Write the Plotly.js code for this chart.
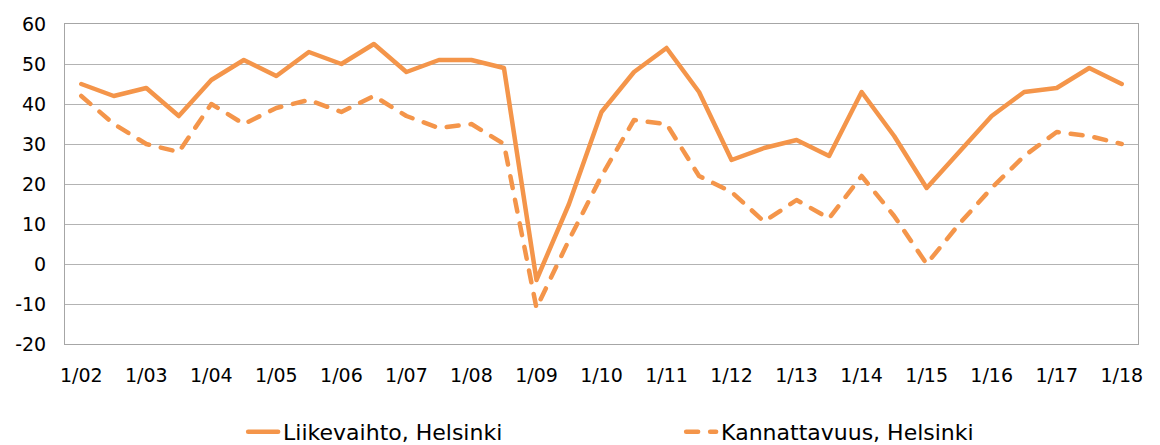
<!DOCTYPE html>
<html>
<head>
<meta charset="utf-8">
<script src="https://cdn.plot.ly/plotly-3.0.1.min.js"></script>
<style>
  html, body { margin: 0; padding: 0; background: #fff; }
  #chart { width: 1160px; height: 445px; }
  .js-line { stroke-linecap: round; stroke-linejoin: round; }
  .legendlines path { stroke-linecap: round; }
</style>
</head>
<body>
<div id="chart"></div>
<script>
// Half-year periods, 1/02 ... 1/18
const periods = ["1/02","7/02","1/03","7/03","1/04","7/04","1/05","7/05","1/06","7/06",
  "1/07","7/07","1/08","7/08","1/09","7/09","1/10","7/10","1/11","7/11","1/12","7/12",
  "1/13","7/13","1/14","7/14","1/15","7/15","1/16","7/16","1/17","7/17","1/18"];
const tickLabels = ["1/02","1/03","1/04","1/05","1/06","1/07","1/08","1/09","1/10",
  "1/11","1/12","1/13","1/14","1/15","1/16","1/17","1/18"];
const yTickValues = [-20, -10, 0, 10, 20, 30, 40, 50, 60];
const yTickLabels = ["-20", "-10", "0", "10", "20", "30", "40", "50", "60"];
const liikevaihto = [45, 42, 44, 37, 46, 51, 47, 53, 50, 55, 48, 51, 51, 49, -4, 15, 38,
  48, 54, 43, 26, 29, 31, 27, 43, 32, 19, 28, 37, 43, 44, 49, 45];
const kannattavuus = [42, 35, 30, 28, 40, 35, 39, 41, 38, 42, 37, 34, 35, 30, -11, 6, 22,
  36, 35, 22, 18, 10.6, 16, 11.4, 22, 12, 0, 10, 19, 27, 33, 32, 30];
const seriesNames = ["Liikevaihto, Helsinki", "Kannattavuus, Helsinki"];

const orange = "#F4954A";
const traces = [
  { type: "scatter", mode: "lines", name: seriesNames[0], x: periods, y: liikevaihto,
    line: { color: orange, width: 4.5 } },
  { type: "scatter", mode: "lines", name: seriesNames[1], x: periods, y: kannattavuus,
    line: { color: orange, width: 4.5, dash: "12px,12px" } }
];

const layout = {
  width: 1160, height: 445,
  margin: { l: 65, r: 22, t: 24, b: 101, autoexpand: false },
  paper_bgcolor: "#fff", plot_bgcolor: "#fff",
  font: { family: "DejaVu Sans, sans-serif", color: "#000", size: 19 },
  showlegend: true,
  legend: {
    orientation: "h", x: 0.166, xanchor: "left", y: -0.209, yanchor: "top",
    font: { size: 22, color: "#000" }, entrywidth: 393, entrywidthmode: "pixels",
    itemwidth: 30, traceorder: "normal"
  },
  xaxis: {
    type: "category", range: [-0.5, periods.length - 0.5],
    tickmode: "array", tickvals: tickLabels, ticktext: tickLabels,
    showgrid: false, zeroline: false, ticks: "",
    showline: true, linecolor: "#A6A6A6", linewidth: 1, mirror: true,
    ticklabelstandoff: 14, tickfont: { size: 19 }
  },
  yaxis: {
    range: [-20, 60], tickmode: "array", tickvals: yTickValues, ticktext: yTickLabels,
    showgrid: true, gridcolor: "#B3B3B3", gridwidth: 1,
    zeroline: false, ticks: "",
    showline: true, linecolor: "#A6A6A6", linewidth: 1, mirror: true,
    ticklabelstandoff: 14, tickfont: { size: 19 }
  }
};

Plotly.newPlot("chart", traces, layout, { displayModeBar: false, staticPlot: true });
</script>
</body>
</html>
